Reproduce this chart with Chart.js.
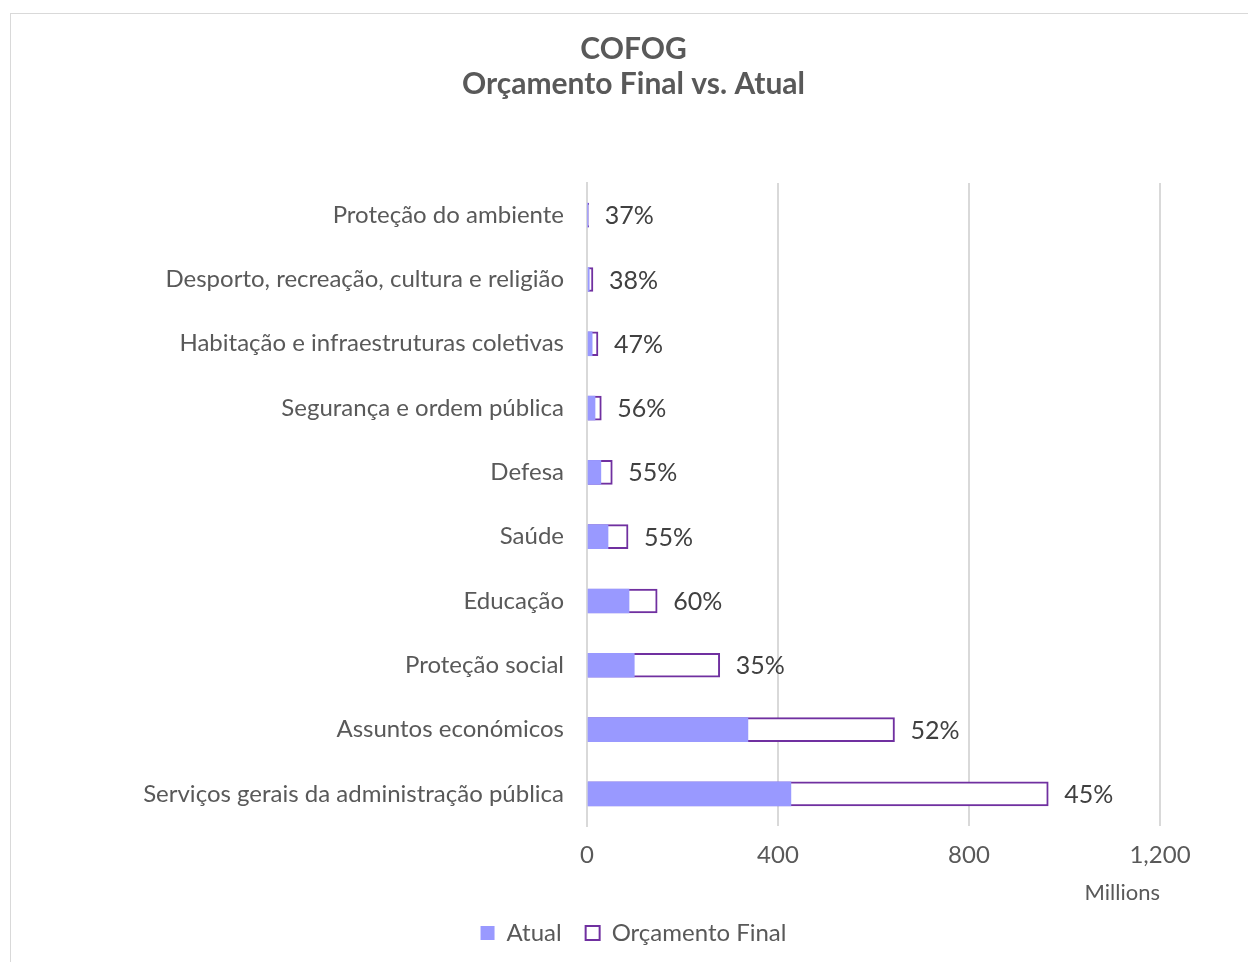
<!DOCTYPE html>
<html>
<head>
<meta charset="utf-8">
<script src="https://cdn.jsdelivr.net/npm/chart.js@4/dist/chart.umd.min.js"></script>
<style>
    html, body { margin: 0; padding: 0; background: #fff; overflow: hidden; }
    #frame { position: absolute; left: 10px; top: 13px; width: 1245px; height: 955px; border: 1px solid #d9d9d9; }
</style>
</head>
<body>
<div id="frame"><canvas id="cofog_chart" width="1245" height="955"></canvas></div>
<script>
'use strict';

// ------------------------------------------------------- //
// Data (Millions)
// ------------------------------------------------------ //

var categories = [
    'Proteção do ambiente',
    'Desporto, recreação, cultura e religião',
    'Habitação e infraestruturas coletivas',
    'Segurança e ordem pública',
    'Defesa',
    'Saúde',
    'Educação',
    'Proteção social',
    'Assuntos económicos',
    'Serviços gerais da administração pública'
];
var atual           = [1.1, 4.7, 10.8, 16.8, 29, 44, 88, 99, 337, 427];
var orcamentoFinal  = [3.5, 12.5, 23, 30, 53, 86, 147, 278, 644, 966];
var percentLabels   = ['37%', '38%', '47%', '56%', '55%', '55%', '60%', '35%', '52%', '45%'];
var xTicks          = [0, 400, 800, 1200];

var textColor = '#595959';
var gridColor = '#d9d9d9';
var fontFamily = 'Lato, "Open Sans", sans-serif';

// simple data label plugin - percent at the end of the Orçamento bar
var percentLabelPlugin = {
    id: 'percentLabels',
    afterDatasetsDraw: function (chart) {
        var ctx = chart.ctx;
        var meta = chart.getDatasetMeta(1);
        ctx.save();
        ctx.font = '25px ' + fontFamily;
        ctx.fillStyle = '#404040';
        ctx.textAlign = 'left';
        ctx.textBaseline = 'middle';
        meta.data.forEach(function (bar, i) {
            ctx.fillText(percentLabels[i], bar.x + 16, bar.y + 1);
        });
        ctx.restore();
    }
};

var CofogChart = document.getElementById('cofog_chart');

var myCofogChart = new Chart(CofogChart, {
    type: 'bar',
    data: {
        labels: categories,
        datasets: [
            {
                label: 'Atual',
                data: atual,
                backgroundColor: 'rgb(153, 153, 255)',
                borderColor: 'rgb(153, 153, 255)',
                borderWidth: 0,
                barThickness: 24,
                grouped: false
            },
            {
                label: 'Orçamento Final',
                data: orcamentoFinal,
                backgroundColor: '#ffffff',
                borderColor: '#7030a0',
                borderWidth: 2,
                barThickness: 24,
                grouped: false
            }
        ]
    },
    options: {
        indexAxis: 'y',
        responsive: false,
        animation: false,
        layout: {
            padding: { left: 96, right: 96, top: 0, bottom: 14 }
        },
        plugins: {
            title: {
                display: true,
                text: ['COFOG', 'Orçamento Final vs. Atual'],
                color: textColor,
                font: { family: fontFamily, size: 30, weight: 'bold', lineHeight: 1.167 },
                padding: { top: 18, bottom: 81 }
            },
            legend: {
                position: 'bottom',
                labels: {
                    color: textColor,
                    font: { family: fontFamily, size: 24 },
                    boxWidth: 14,
                    boxHeight: 14,
                    padding: 24
                }
            },
            tooltip: { enabled: false }
        },
        scales: {
            x: {
                min: 0,
                max: 1200,
                afterBuildTicks: function (scale) {
                    scale.ticks = xTicks.map(function (v) { return { value: v }; });
                },
                afterFit: function (scale) { scale.height = 71; },
                ticks: {
                    color: textColor,
                    font: { family: fontFamily, size: 24 },
                    padding: 15,
                    callback: function (v) { return v.toLocaleString('en-US'); }
                },
                grid: { color: gridColor, lineWidth: 2, drawTicks: false },
                border: { display: false },
                title: {
                    display: true,
                    text: 'Millions',
                    align: 'end',
                    color: textColor,
                    font: { family: fontFamily, size: 22 },
                    padding: { top: 0, bottom: -9 }
                }
            },
            y: {
                afterFit: function (scale) { scale.width = 480; },
                ticks: {
                    color: textColor,
                    font: { family: fontFamily, size: 24 },
                    padding: 23
                },
                grid: { display: false, drawTicks: false },
                border: { display: true, color: gridColor, width: 2 }
            }
        }
    },
    plugins: [percentLabelPlugin]
});
</script>
</body>
</html>
